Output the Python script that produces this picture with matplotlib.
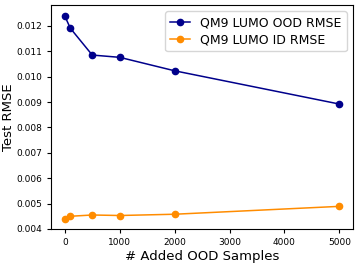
import matplotlib
matplotlib.use("Agg")
import matplotlib.pyplot as plt

samples = [0, 100, 500, 1000, 2000, 5000]
ood_rmse = [0.01239, 0.01191, 0.01085, 0.01076, 0.01023, 0.00892]
id_rmse = [0.00438, 0.00450, 0.00455, 0.00453, 0.00458, 0.00489]

fig, ax = plt.subplots(figsize=(3.57, 2.65), dpi=100)
ax.plot(samples, ood_rmse, marker="o", color="darkblue", markersize=4.5, linewidth=1.1,
        label="QM9 LUMO OOD RMSE")
ax.plot(samples, id_rmse, marker="o", color="darkorange", markersize=4.5, linewidth=1.1,
        label="QM9 LUMO ID RMSE")

ax.set_ylim(0.004, 0.01282)
ax.set_yticks([0.004, 0.005, 0.006, 0.007, 0.008, 0.009, 0.010, 0.011, 0.012])
ax.set_xticks([0, 1000, 2000, 3000, 4000, 5000])
ax.tick_params(labelsize=6.5, length=3)
ax.set_xlabel("# Added OOD Samples", fontsize=9.5, labelpad=2)
ax.set_ylabel("Test RMSE", fontsize=9.5, labelpad=1)
ax.legend(loc="upper right", fontsize=9, handlelength=1.6, borderpad=0.4, labelspacing=0.3)

plt.subplots_adjust(left=0.143, right=0.989, top=0.981, bottom=0.136)
plt.savefig("out.png", dpi=100)
